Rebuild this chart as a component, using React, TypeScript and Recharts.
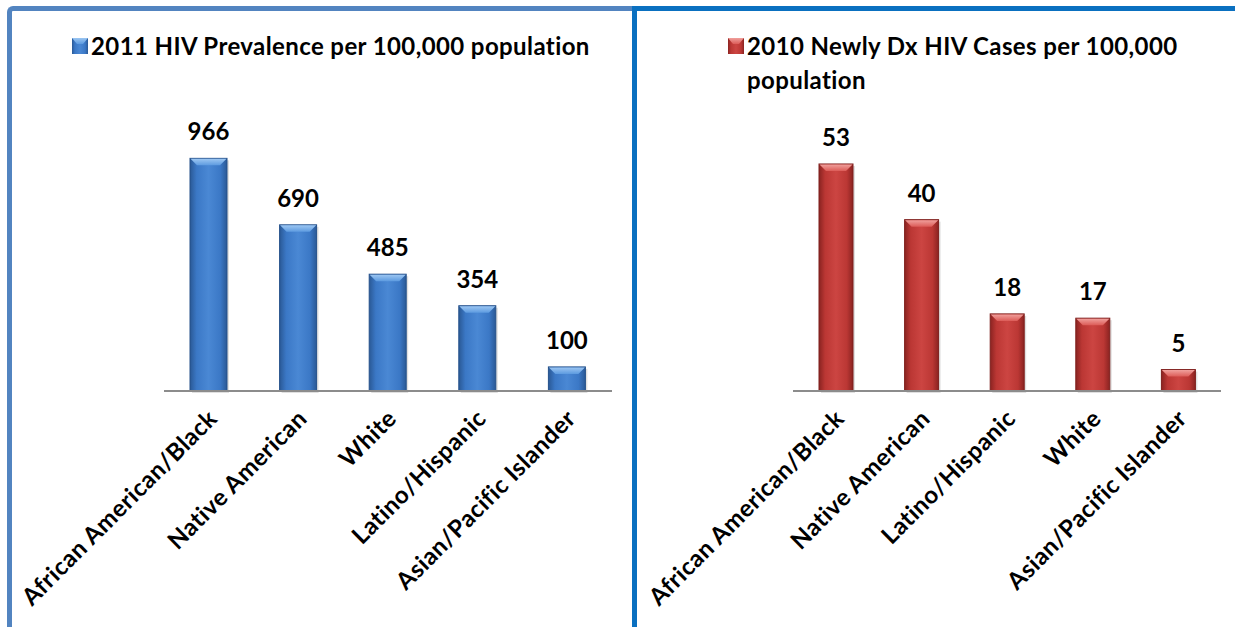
import React from 'react';
import { BarChart, Bar, XAxis, YAxis, Legend, LabelList } from 'recharts';

const prevalenceCategories = ['African American/Black', 'Native American', 'White', 'Latino/Hispanic', 'Asian/Pacific Islander'];
const prevalenceValues = [966, 690, 485, 354, 100];
const prevalenceLabel = '2011 HIV Prevalence per 100,000 population';

const newDxCategories = ['African American/Black', 'Native American', 'Latino/Hispanic', 'White', 'Asian/Pacific Islander'];
const newDxValues = [53, 40, 18, 17, 5];
const newDxLabel = '2010 Newly Dx HIV Cases per 100,000 population';

const FONT = 'Lato, "Open Sans", sans-serif';

const prevalenceData = prevalenceCategories.map((name, i) => ({ name, value: prevalenceValues[i] }));
const newDxData = newDxCategories.map((name, i) => ({ name, value: newDxValues[i] }));

const makeShape = (id: string, dark: string) => (props: any) => {
  const { x, y, width, height } = props;
  if (!height || height <= 0) return <g />;
  const b = Math.min(7, height / 3);
  return (
    <g>
      <rect x={x + 2} y={y + 2} width={width} height={height} fill="rgba(0,0,0,0.12)" />
      <rect x={x} y={y} width={width} height={height} fill={`url(#${id}-h)`} stroke={dark} strokeWidth={1} />
      <polygon
        points={`${x + 0.5},${y + 0.5} ${x + width - 0.5},${y + 0.5} ${x + width - b},${y + b} ${x + b},${y + b}`}
        fill={`url(#${id}-top)`}
      />
    </g>
  );
};

const RotTick = (props: any) => {
  const { x, y, payload } = props;
  return (
    <text
      x={0}
      y={0}
      transform={`translate(${x + 10},${y + 21}) rotate(-45)`}
      textAnchor="end"
      fontFamily={FONT}
      fontWeight={700}
      fontSize={24}
      letterSpacing={0.5}
      fill="#000"
    >
      {payload.value}
    </text>
  );
};

const LegendBox = ({ text, id, width }: { text: string; id: string; width: number }) => (
  <div
    style={{
      display: 'flex',
      alignItems: 'flex-start',
      fontFamily: FONT,
      fontWeight: 700,
      fontSize: 24,
      letterSpacing: 0.4,
      lineHeight: '34px',
      color: '#000',
    }}
  >
    <svg width={16} height={16} style={{ marginTop: 9, marginRight: 3, flex: 'none' }}>
      <rect x={0} y={0} width={16} height={16} fill={`url(#${id}-h)`} />
      <polygon points="0,0 16,0 11,6 5,6" fill={`url(#${id}-top)`} />
    </svg>
    <div style={{ width, textAlign: 'left' }}>{text}</div>
  </div>
);

const Gradients = () => (
  <svg width={0} height={0} style={{ position: 'absolute' }}>
    <defs>
      <linearGradient id="blue-h" x1="0" y1="0" x2="1" y2="0">
        <stop offset="0%" stopColor="#2a5996" />
        <stop offset="18%" stopColor="#3b78c6" />
        <stop offset="50%" stopColor="#4a88d4" />
        <stop offset="82%" stopColor="#3b78c6" />
        <stop offset="100%" stopColor="#2a5996" />
      </linearGradient>
      <linearGradient id="blue-top" x1="0" y1="0" x2="0" y2="1">
        <stop offset="0%" stopColor="#9cc6f2" />
        <stop offset="100%" stopColor="#5d9be0" />
      </linearGradient>
      <linearGradient id="red-h" x1="0" y1="0" x2="1" y2="0">
        <stop offset="0%" stopColor="#8a2321" />
        <stop offset="18%" stopColor="#bb3734" />
        <stop offset="50%" stopColor="#cc4542" />
        <stop offset="82%" stopColor="#bb3734" />
        <stop offset="100%" stopColor="#8a2321" />
      </linearGradient>
      <linearGradient id="red-top" x1="0" y1="0" x2="0" y2="1">
        <stop offset="0%" stopColor="#f0a09c" />
        <stop offset="100%" stopColor="#dc5c58" />
      </linearGradient>
    </defs>
  </svg>
);

const blueShape = makeShape('blue', '#24508a');
const redShape = makeShape('red', '#7e1e1c');

export default function App() {
  return (
    <div style={{ position: 'absolute', left: 0, top: 0, width: 1235, height: 627, background: '#fff', overflow: 'hidden' }}>
      <Gradients />
      <div
        style={{
          position: 'absolute',
          left: 7,
          top: 6,
          width: 640,
          height: 660,
          borderLeft: '5px solid #5284c0',
          borderTop: '5px solid #5284c0',
          borderTopLeftRadius: 6,
        }}
      />
      <div
        style={{
          position: 'absolute',
          left: 632,
          top: 6,
          width: 640,
          height: 660,
          borderLeft: '5px solid #0a70c0',
          borderTop: '5px solid #0a70c0',
        }}
      />
      <div style={{ position: 'absolute', left: 0, top: 0 }}>
        <BarChart width={630} height={627} data={prevalenceData} margin={{ top: 30, right: 18, bottom: 36, left: 164 }}>
          <Legend
            verticalAlign="top"
            content={() => <LegendBox text={prevalenceLabel} id="blue" width={540} />}
            wrapperStyle={{ left: 72, top: 29, width: 560, height: 72 }}
          />
          <XAxis
            dataKey="name"
            interval={0}
            height={200}
            tickLine={false}
            axisLine={{ stroke: '#8c8c8c', strokeWidth: 2 }}
            tick={<RotTick />}
          />
          <YAxis hide domain={[0, 1200]} />
          <Bar dataKey="value" name={prevalenceLabel} barSize={37} shape={blueShape} isAnimationActive={false}>
            <LabelList dataKey="value" position="top" offset={18} fill="#000" fontSize={24} fontWeight={700} fontFamily={FONT} />
          </Bar>
        </BarChart>
      </div>
      <div style={{ position: 'absolute', left: 630, top: 0 }}>
        <BarChart width={605} height={627} data={newDxData} margin={{ top: 30, right: 14, bottom: 36, left: 163 }}>
          <Legend
            verticalAlign="top"
            content={() => <LegendBox text={newDxLabel} id="red" width={460} />}
            wrapperStyle={{ left: 98, top: 29, width: 490, height: 104 }}
          />
          <XAxis
            dataKey="name"
            interval={0}
            height={200}
            tickLine={false}
            axisLine={{ stroke: '#8c8c8c', strokeWidth: 2 }}
            tick={<RotTick />}
          />
          <YAxis hide domain={[0, 60]} />
          <Bar dataKey="value" name={newDxLabel} barSize={34} shape={redShape} isAnimationActive={false}>
            <LabelList dataKey="value" position="top" offset={18} fill="#000" fontSize={24} fontWeight={700} fontFamily={FONT} />
          </Bar>
        </BarChart>
      </div>
    </div>
  );
}
